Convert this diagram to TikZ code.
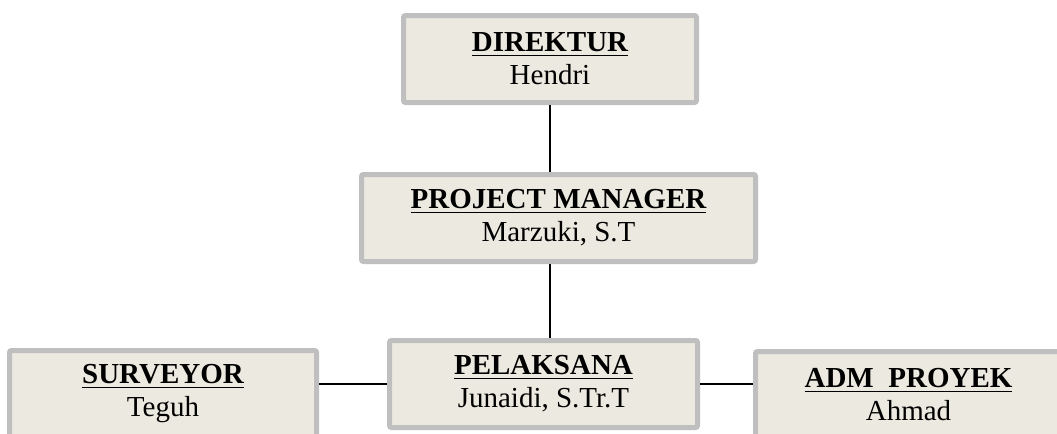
\documentclass[tikz,border=0pt]{standalone}
\usepackage{fontspec}
\setmainfont{Liberation Serif}
\usetikzlibrary{positioning}
\definecolor{boxfill}{HTML}{ECEAE0}
\definecolor{boxline}{HTML}{BFBFBF}
\def\Px{0.5pt}
\newcommand*{\jabatan}[2]{\textbf{\underline{#1}}\\#2}
\tikzset{
  centered/.style = { align=center, anchor=center },
       jab/.style = { centered, draw=boxline, fill=boxfill, line width=5*\Px,
                      rounded corners=2*\Px, inner sep=0pt,
                      font=\fontsize{14.5}{16.5}\selectfont,
                      minimum height=87*\Px },
      link/.style = { line width=2*\Px, color=black },
}

\begin{document}
\begin{tikzpicture}[x=\Px, y=-\Px]
  \useasboundingbox (0,0) rectangle (1057,434);
  \clip (0,0) rectangle (1057,434);

  \node[jab, minimum width=293*\Px] (dir) at (550,59)    {\jabatan{DIREKTUR}{Hendri}};
  \node[jab, minimum width=394*\Px] (pm)  at (558.5,218) {\jabatan{PROJECT MANAGER}{Marzuki, S.T}};
  \node[jab, minimum width=308*\Px] (pel) at (543.5,384) {\jabatan{PELAKSANA}{Junaidi, S.Tr.T}};
  \node[jab, minimum width=307*\Px] (sur) at (163,394)   {\jabatan{SURVEYOR}{Teguh}};
  \node[jab, minimum width=306*\Px] (adm) at (908.5,395) {\jabatan{ADM\ \ PROYEK}{Ahmad}};

  \draw [link] (dir.south) -- (dir.south |- pm.north);
  \draw [link] (pm.south -| dir.south) -- (dir.south |- pel.north);
  \foreach \a/\b/\c in {west/sur/east, east/adm/west} {
    \draw [link] (pel.\a) -- (pel.\a -| \b.\c);
  }

\end{tikzpicture}
\end{document}
